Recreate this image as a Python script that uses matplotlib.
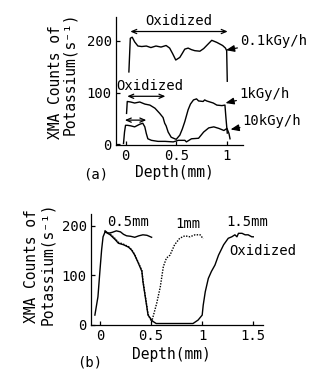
import matplotlib
matplotlib.use("Agg")
import matplotlib.pyplot as plt

plt.rcParams['font.family'] = ['DejaVu Sans Mono', 'DejaVu Sans']
plt.rcParams['font.size'] = 10

# ---------- Panel (a) data ----------
a_01_x = [0.033, 0.047, 0.066, 0.09, 0.122, 0.16, 0.205, 0.25, 0.30, 0.35, 0.40, 0.435, 0.465, 0.495,
          0.535, 0.56, 0.584, 0.617, 0.65, 0.683, 0.733, 0.77, 0.80, 0.85, 0.90, 0.957, 0.985, 0.997, 1.003]
a_01_y = [140, 205, 207, 198, 190, 189, 190, 187, 190, 188, 191, 186, 175, 163,
          168, 176, 184, 186, 183, 181, 180, 185, 191, 201, 197, 191, 186, 181, 122]

a_1_x = [0.01, 0.017, 0.05, 0.09, 0.14, 0.19, 0.24, 0.29, 0.337, 0.37, 0.386, 0.40, 0.42, 0.45, 0.485,
         0.50, 0.535, 0.56, 0.584, 0.617, 0.64, 0.67, 0.70, 0.72, 0.765, 0.78, 0.80, 0.865, 0.90, 0.95,
         0.98, 0.99, 1.003]
a_1_y = [60, 83, 82, 80, 82, 78, 76, 70, 60, 52, 41, 36, 24, 14, 11,
         10, 18, 30, 44, 67, 78, 86, 88, 84, 83, 86, 84, 80, 76, 75,
         76, 51, 22]

a_10_x = [-0.02, -0.01, 0.0, 0.02, 0.05, 0.09, 0.14, 0.17, 0.19, 0.205, 0.22, 0.255, 0.32, 0.39, 0.47,
          0.52, 0.585, 0.60, 0.65, 0.72, 0.77, 0.82, 0.87, 0.92, 0.97, 1.0, 1.02, 1.03]
a_10_y = [2, 24, 37, 37, 36, 34, 39, 41, 34, 21, 11, 8, 6, 6, 5,
          8, 8, 5, 11, 12, 24, 32, 34, 31, 27, 31, 21, 11]

# ---------- Panel (b) data ----------
b_rise_x = [-0.05, -0.02, 0.0, 0.016, 0.03, 0.05]
b_rise_y = [20, 57, 111, 152, 178, 188]

b_05_x = [0.05, 0.08, 0.12, 0.16, 0.20, 0.23, 0.26, 0.30, 0.34, 0.38, 0.42, 0.46, 0.505]
b_05_y = [190, 185, 187, 190, 188, 183, 180, 179, 177, 180, 182, 181, 177]

b_1_x = [0.05, 0.10, 0.15, 0.18, 0.23, 0.28, 0.31, 0.34, 0.375, 0.41, 0.42, 0.44, 0.46, 0.47, 0.505,
         0.555, 0.59, 0.62, 0.65, 0.685, 0.73, 0.78, 0.83, 0.88, 0.93, 0.98, 1.01]
b_1_y = [188, 184, 174, 167, 163, 158, 152, 142, 126, 110, 90, 63, 36, 22, 6,
         44, 77, 118, 135, 141, 162, 175, 180, 178, 182, 182, 174]

b_15_x = [0.05, 0.10, 0.15, 0.18, 0.23, 0.28, 0.31, 0.34, 0.375, 0.41, 0.42, 0.44, 0.46, 0.47, 0.505,
          0.52, 0.55, 0.70, 0.91, 0.96, 1.0, 1.01, 1.03, 1.06, 1.09, 1.125, 1.16, 1.21, 1.255, 1.29,
          1.32, 1.34, 1.355, 1.39, 1.42, 1.45, 1.485, 1.5]
b_15_y = [188, 182, 172, 165, 162, 157, 151, 141, 125, 108, 88, 61, 34, 20, 10,
          7, 3, 3, 3, 10, 20, 40, 67, 94, 108, 121, 141, 162, 175, 178,
          182, 178, 185, 185, 182, 182, 178, 178]

W, H = 326, 380
fig = plt.figure(figsize=(W / 100, H / 100), dpi=100)


def ax_px(l, r, t, b):
    return fig.add_axes([l / W, 1 - b / H, (r - l) / W, (b - t) / H])


def style(ax):
    for s in ['top', 'right']:
        ax.spines[s].set_visible(False)
    for s in ['left', 'bottom']:
        ax.spines[s].set_linewidth(0.9)
    ax.tick_params(direction='in', length=3, width=0.9, labelsize=10, pad=3)


lw = 1.0
LAB = 10.5
# ---------- Panel (a) ----------
axa = ax_px(116, 243, 17, 145)
style(axa)
axa.plot(a_01_x, a_01_y, color='black', lw=lw)
axa.plot(a_1_x, a_1_y, color='black', lw=lw)
axa.plot(a_10_x, a_10_y, color='black', lw=lw)
axa.set_xlim(-0.094, 1.158)
axa.set_ylim(-1, 246)
axa.set_xticks([0, 0.5, 1])
axa.set_xticklabels(['0', '0.5', '1'])
axa.set_yticks([0, 100, 200])

dbl = dict(arrowstyle='<->,head_length=0.35,head_width=0.15', color='black', lw=0.9,
           shrinkA=0, shrinkB=0)
axa.annotate('', xy=(0.047, 218), xytext=(1.007, 218), arrowprops=dbl)
axa.text(0.525, 238, 'Oxidized', ha='center', va='center')
axa.annotate('', xy=(0.017, 93), xytext=(0.393, 93), arrowprops=dbl)
axa.text(0.24, 112, 'Oxidized', ha='center', va='center')
axa.annotate('', xy=(-0.007, 47), xytext=(0.205, 47), arrowprops=dbl)

ptr = dict(arrowstyle='-|>,head_length=0.5,head_width=0.2', color='black', lw=0.9,
           shrinkA=0, shrinkB=0)
axa.annotate('0.1kGy/h', xy=(0.99, 182), xytext=(1.13, 200), arrowprops=ptr,
             ha='left', va='center', annotation_clip=False)
axa.annotate('1kGy/h', xy=(0.985, 80), xytext=(1.12, 97), arrowprops=ptr,
             ha='left', va='center', annotation_clip=False)
axa.annotate('10kGy/h', xy=(1.035, 29), xytext=(1.155, 45), arrowprops=ptr,
             ha='left', va='center', annotation_clip=False)

fig.text(56 / W, 1 - 82 / H, 'XMA Counts of', rotation=90, ha='center', va='center', fontsize=LAB)
fig.text(70 / W, 1 - 74 / H, 'Potassium(s⁻¹)', rotation=90, ha='center', va='center', fontsize=LAB)
fig.text(96 / W, 1 - 174 / H, '(a)', ha='center', va='center')
fig.text(174 / W, 1 - 173 / H, 'Depth(mm)', ha='center', va='center', fontsize=LAB)

# ---------- Panel (b) ----------
axb = ax_px(91, 263, 214, 325)
style(axb)
axb.plot(b_rise_x, b_rise_y, color='black', lw=lw)
axb.plot(b_05_x, b_05_y, color='black', lw=lw)
axb.plot(b_1_x, b_1_y, color='black', lw=lw, ls=(0, (1, 1)))
axb.plot(b_15_x, b_15_y, color='black', lw=lw)
axb.set_xlim(-0.088, 1.595)
axb.set_ylim(0, 224)
axb.set_xticks([0, 0.5, 1, 1.5])
axb.set_xticklabels(['0', '0.5', '1', '1.5'])
axb.set_yticks([0, 100, 200])

fig.text(128 / W, 1 - 222 / H, '0.5mm', ha='center', va='center')
fig.text(187.5 / W, 1 - 224 / H, '1mm', ha='center', va='center')
fig.text(247 / W, 1 - 222 / H, '1.5mm', ha='center', va='center')
fig.text(262.5 / W, 1 - 251 / H, 'Oxidized', ha='center', va='center')

fig.text(32 / W, 1 - 266 / H, 'XMA Counts of', rotation=90, ha='center', va='center', fontsize=LAB)
fig.text(48 / W, 1 - 264 / H, 'Potassium(s⁻¹)', rotation=90, ha='center', va='center', fontsize=LAB)
fig.text(90 / W, 1 - 363 / H, '(b)', ha='center', va='center')
fig.text(171 / W, 1 - 354 / H, 'Depth(mm)', ha='center', va='center', fontsize=LAB)

fig.savefig('out.png', dpi=100)
